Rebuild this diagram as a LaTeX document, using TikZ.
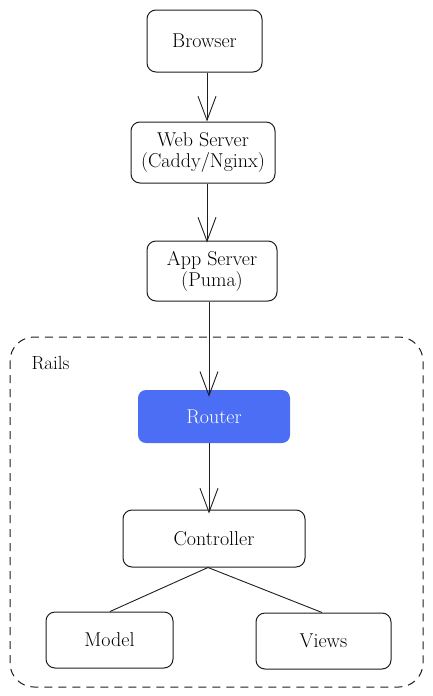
\documentclass[tikz,border=0pt]{standalone}
\usepackage{tikz}
\usetikzlibrary{arrows.meta,positioning}
\definecolor{routerblue}{RGB}{76,110,245}
\definecolor{inkblack}{RGB}{30,30,30}
\tikzset{
  blk/.style={draw=inkblack, fill=white, line width=1pt, rounded corners=9pt,
              align=center, font=\fontsize{20}{21}\selectfont},
  routerblk/.style={fill=routerblue, rounded corners=8pt, text=white,
              minimum width=152pt, minimum height=53pt, font=\fontsize{20}{21}\selectfont},
  flowarr/.style={-{Straight Barb[length=24pt, width=18pt]}, inkblack, line width=0.9pt},
  linkln/.style={inkblack, line width=0.9pt},
  railsbox/.style={draw=inkblack, line width=1pt, dash pattern=on 8pt off 6pt, rounded corners=24pt},
}

\begin{document}
\begin{tikzpicture}[x=1pt, y=-1pt]
  \useasboundingbox (0,0) rectangle (433,696);
  % rails container
  \draw[railsbox] (10,337) rectangle (423,687);
  \node[font=\fontsize{19}{21}\selectfont, anchor=west] (railslbl) at (28,363) {Rails};
  % request chain
  \node[blk, minimum width=115pt, minimum height=62pt] (browser) at (204.5,41) {Browser};
  \node[blk, minimum width=144pt, minimum height=61pt] (websrv) at (203,152.5) {Web Server\\(Caddy/Nginx)};
  \node[blk, minimum width=130pt, minimum height=60pt] (appsrv) at (212,271) {App Server\\(Puma)};
  \node[routerblk] (router) at (214,416.5) {Router};
  \node[blk, minimum width=182pt, minimum height=57pt] (ctrl) at (214,538.5) {Controller};
  \node[blk, minimum width=127pt, minimum height=56pt] (model) at (109.5,640) {Model};
  \node[blk, minimum width=135pt, minimum height=56pt] (views) at (323.5,641) {Views};
  % arrows
  \draw[flowarr] (browser.south -| 207,0) -- (websrv.north -| 207,0);
  \draw[flowarr] (websrv.south -| 207,0) -- ([yshift=-2pt]appsrv.north -| 207,0);
  \draw[flowarr] (appsrv.south -| 209,0) -- ([yshift=-7pt]router.north -| 209,0);
  \draw[flowarr] (router.south -| 209,0) -- ([yshift=-4pt]ctrl.north -| 209,0);
  \draw[linkln] (ctrl.south -| 208,0) -- (model.north -| 110,0);
  \draw[linkln] (ctrl.south -| 208,0) -- (views.north -| 322,0);
\end{tikzpicture}
\end{document}
